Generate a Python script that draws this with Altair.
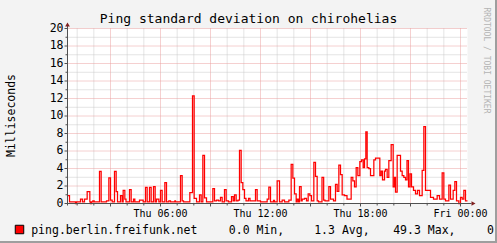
import altair as alt
import pandas as pd

# ---- data (hours since Thu 00:00, value in ms; step series) ----
hours = [0.42,0.54,0.90,0.96,1.20,1.32,1.44,1.60,1.76,1.80,1.86,1.94,2.02,2.34,2.44,2.76,2.90,3.00,3.10,3.24,
         3.34,3.42,3.60,3.70,3.76,3.86,3.93,4.14,4.24,4.38,4.46,4.74,4.96,5.10,5.20,5.34,5.44,5.58,5.68,5.76,
         5.90,6.00,6.10,6.26,6.36,6.50,6.60,6.86,6.90,7.20,7.30,7.38,7.76,7.92,8.02,8.16,8.34,8.44,8.54,8.64,
         8.76,9.14,9.24,9.36,9.48,9.60,9.70,9.84,9.94,10.08,10.26,10.36,10.44,10.54,10.65,10.74,10.84,10.94,11.04,11.13,
         11.28,11.37,11.70,11.80,12.00,12.40,12.50,12.60,12.78,12.84,13.00,13.14,13.30,13.44,13.70,13.84,13.94,14.04,14.14,14.20,
         14.28,14.34,14.44,14.50,14.64,14.76,14.86,14.96,15.06,15.20,15.30,15.40,15.48,15.69,15.79,15.87,16.10,16.20,16.38,16.50,
         16.60,16.70,16.80,16.90,17.04,17.19,17.44,17.54,17.64,17.74,17.84,17.96,18.06,18.16,18.24,18.32,18.40,18.50,18.60,18.80,
         18.90,19.16,19.24,19.32,19.44,19.50,19.60,19.70,19.84,19.96,20.04,20.10,20.20,20.40,20.50,20.60,20.70,20.79,20.88,20.97,
         21.06,21.18,21.30,21.42,21.54,21.70,21.80,21.90,22.20,22.38,22.60,22.74,22.90,23.00,23.10,23.30,23.40,23.56,23.66,23.76,
         23.90,24.00,24.10,24.20,24.30,24.42]
values = [0.9,0.2,0.0,0.2,0.5,0.2,0.5,1.37,0.2,0.0,0.2,0.3,0.2,3.66,0.2,0.3,2.93,0.4,0.2,3.66,
          1.37,0.2,0.9,0.2,1.5,0.5,0.2,1.6,0.2,0.5,0.2,0.4,0.2,1.83,0.2,1.83,0.2,1.94,0.2,0.5,
          0.2,1.5,0.2,2.4,0.2,0.3,0.2,0.3,0.2,3.2,0.3,0.2,1.25,12.3,0.6,0.2,1.0,0.2,5.5,0.65,
          0.2,1.7,0.3,0.4,0.3,0.7,0.2,1.6,0.3,0.2,0.8,0.3,1.0,0.3,0.4,6.06,2.4,1.6,0.6,0.3,
          0.6,0.3,1.6,0.3,0.2,0.5,1.87,0.2,0.35,0.2,2.6,0.2,0.4,0.2,0.4,4.46,2.9,1.1,0.2,0.5,
          0.2,1.94,0.3,0.5,0.6,0.3,1.1,0.9,0.3,4.7,3.1,0.3,0.2,3.0,0.4,0.3,1.94,0.5,0.3,2.2,
          1.4,4.4,3.3,1.0,0.9,0.5,3.0,2.6,1.9,4.1,3.2,4.8,5.0,4.1,5.1,8.2,4.1,4.0,3.2,5.0,
          5.2,3.2,3.7,2.7,3.7,3.9,3.0,4.9,6.74,1.9,3.0,1.3,5.5,3.7,3.2,3.0,2.7,4.9,1.9,3.4,
          1.9,1.5,1.1,1.5,0.9,3.8,8.8,1.5,0.7,0.5,0.9,0.5,3.5,0.5,0.3,2.1,0.5,1.5,2.5,0.3,
          0.0,0.7,0.5,1.5,0.3,0.3]

y_ticks = [0, 2, 4, 6, 8, 10, 12, 14, 16, 18, 20]
y_minor = [1, 3, 5, 7, 9, 11, 13, 15, 17, 19]
x_major = [3, 6, 9, 12, 15, 18, 21, 24]
x_minor = [1, 2, 4, 5, 7, 8, 10, 11, 13, 14, 16, 17, 19, 20, 22, 23]
x_label_pos = [6, 12, 18, 24]
x_labels = ["Thu 06:00", "Thu 12:00", "Thu 18:00", "Fri 00:00"]

title = "Ping standard deviation on chirohelias"
y_title = "Milliseconds"
series_name = "ping.berlin.freifunk.net"
stats = ["0.0 Min,", "1.3 Avg,", "49.3 Max,", "0."]

FONT = "DejaVu Sans Mono"
W, H = 400, 175

df = pd.DataFrame({"h": hours, "v": values})
xs = alt.Scale(domain=[0.42, 24.42], nice=False, zero=False)
ys = alt.Scale(domain=[0, 20], nice=False)

hmin = alt.Chart(pd.DataFrame({"v": y_minor})).mark_rule(color="#C8C8C8", strokeDash=[1, 1], strokeWidth=1).encode(
    y=alt.Y("v:Q", scale=ys, axis=None), x=alt.value(0), x2=alt.value(W))
hmaj = alt.Chart(pd.DataFrame({"v": y_ticks[1:]})).mark_rule(color="#EBA0A0", strokeDash=[1, 1], strokeWidth=1).encode(
    y=alt.Y("v:Q", scale=ys, axis=None), x=alt.value(0), x2=alt.value(W))
vmin = alt.Chart(pd.DataFrame({"h": x_minor})).mark_rule(color="#C8C8C8", strokeDash=[1, 1], strokeWidth=1).encode(
    x=alt.X("h:Q", scale=xs, axis=None), y=alt.value(0), y2=alt.value(H))
vmaj = alt.Chart(pd.DataFrame({"h": x_major})).mark_rule(color="#EBA0A0", strokeDash=[1, 1], strokeWidth=1).encode(
    x=alt.X("h:Q", scale=xs, axis=None), y=alt.value(0), y2=alt.value(H))

line = alt.Chart(df).mark_line(interpolate="step-after", color="#FF0000", strokeWidth=1.25).encode(
    x=alt.X("h:Q", scale=xs, axis=None), y=alt.Y("v:Q", scale=ys, axis=None))

# axes
yaxis = alt.Chart(pd.DataFrame({"a": [0]})).mark_rule(color="#505050").encode(
    x=alt.value(0), y=alt.value(-3), y2=alt.value(H + 2))
xaxis = alt.Chart(pd.DataFrame({"a": [0]})).mark_rule(color="#505050").encode(
    x=alt.value(-2), x2=alt.value(404), y=alt.value(H))
yarrow = alt.Chart(pd.DataFrame({"a": [0]})).mark_point(shape="triangle-up", filled=True, color="#7F1F1F", size=22, opacity=1).encode(
    x=alt.value(0), y=alt.value(-4))
xarrow = alt.Chart(pd.DataFrame({"a": [0]})).mark_point(shape="triangle-right", filled=True, color="#7F1F1F", size=22, opacity=1).encode(
    x=alt.value(406), y=alt.value(H))
yticks_min = alt.Chart(pd.DataFrame({"v": y_minor})).mark_rule(color="#505050").encode(
    y=alt.Y("v:Q", scale=ys, axis=None), x=alt.value(-2), x2=alt.value(0))
yticks_maj = alt.Chart(pd.DataFrame({"v": y_ticks})).mark_rule(color="#505050").encode(
    y=alt.Y("v:Q", scale=ys, axis=None), x=alt.value(-3), x2=alt.value(0))
xticks_min = alt.Chart(pd.DataFrame({"h": x_minor})).mark_rule(color="#505050").encode(
    x=alt.X("h:Q", scale=xs, axis=None), y=alt.value(H), y2=alt.value(H + 2))
xticks_maj = alt.Chart(pd.DataFrame({"h": x_major})).mark_rule(color="#505050").encode(
    x=alt.X("h:Q", scale=xs, axis=None), y=alt.value(H), y2=alt.value(H + 3))

ylab = alt.Chart(pd.DataFrame({"v": y_ticks})).mark_text(font=FONT, fontSize=11.5, align="right", baseline="middle", color="#000000").encode(
    y=alt.Y("v:Q", scale=ys, axis=None), x=alt.value(-4), text=alt.Text("v:Q", format="d"))
xlab = alt.Chart(pd.DataFrame({"h": x_label_pos, "t": x_labels})).mark_text(font=FONT, fontSize=10, align="center", baseline="alphabetic", color="#000000").encode(
    x=alt.X("h:Q", scale=xs, axis=None), y=alt.value(H + 13), text="t:N")

def txt(s, x, y, size, **kw):
    return alt.Chart(pd.DataFrame({"t": [s]})).mark_text(font=FONT, fontSize=size, **kw).encode(
        x=alt.value(x), y=alt.value(y), text="t:N")

ttl = txt(title, 181, -6, 13, align="center", baseline="alphabetic", color="#000000")
ytl = txt(y_title, -56, 87, 11.5, align="center", baseline="middle", angle=270, color="#000000")
wm = txt("RRDTOOL / TOBI OETIKER", 418, 32, 8, align="center", baseline="middle", angle=90, color="#B4B4B4")

leg_sq = alt.Chart(pd.DataFrame({"a": [0]})).mark_square(size=72, fill="#FF0000", stroke="#000000", strokeWidth=1, opacity=1).encode(
    x=alt.value(-48), y=alt.value(201))
leg_name = txt(series_name, -36.3, 205, 11.5, align="left", baseline="alphabetic", color="#000000")
leg_s = [txt(s, xp, 205, 11.5, align="left", baseline="alphabetic", color="#000000")
         for s, xp in zip(stats, [161.3, 246.7, 325.7, 419.5])]

# frame shading
frame_b = alt.Chart(pd.DataFrame({"a": [0]})).mark_rule(color="#9E9E9E", strokeWidth=2).encode(
    x=alt.value(-68), x2=alt.value(430), y=alt.value(213.5))
frame_r = alt.Chart(pd.DataFrame({"a": [0]})).mark_rule(color="#9E9E9E", strokeWidth=2).encode(
    x=alt.value(428.5), y=alt.value(-29), y2=alt.value(215))

chart = alt.layer(
    hmin, vmin, hmaj, vmaj, line, yaxis, xaxis, yticks_min, yticks_maj, xticks_min, xticks_maj,
    yarrow, xarrow, ylab, xlab, ttl, ytl, wm, leg_sq, leg_name, *leg_s, frame_b, frame_r
).properties(
    width=W, height=H,
    autosize=alt.AutoSizeParams(type="none"),
    padding={"left": 67.5, "top": 28.5, "right": 29.5, "bottom": 39.5},
    background="#F3F3F3",
).configure_view(fill="#FFFFFF", stroke=None)

chart.save("out.html", embed_options={"renderer": "svg", "actions": False})
